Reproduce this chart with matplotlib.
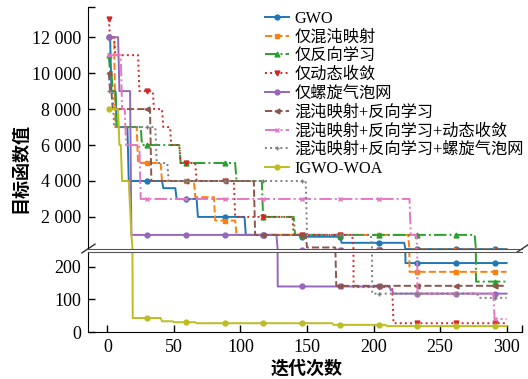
import numpy as np
import matplotlib
matplotlib.use("Agg")
import matplotlib.pyplot as plt

plt.rcParams['font.family'] = ['Liberation Serif', 'Noto Sans CJK SC']

names = ['GWO', '仅混沌映射', '仅反向学习', '仅动态收敛', '仅螺旋气泡网',
         '混沌映射+反向学习', '混沌映射+反向学习+动态收敛',
         '混沌映射+反向学习+螺旋气泡网', 'IGWO-WOA']
colors = ['#1f77b4', '#ff7f0e', '#2ca02c', '#d62728', '#9467bd',
          '#8c564b', '#e377c2', '#7f7f7f', '#bcbd22']
styles = ['-', '--', '-.', ':', '-', '--', '-.', ':', '-']
markers = ['o', 's', '^', 'v', 'o', '<', 'x', '+', 'o']

# convergence curves as (iteration where the value starts, best value)
gwo_steps = [(1, 12000), (3, 9000), (7, 7000), (16, 4000), (42, 3600), (52, 3000),
             (68, 2000), (104, 1000), (145, 900), (176, 560), (224, 212)]
chaos_steps = [(1, 12000), (6, 7000), (23, 5000), (41, 4000), (66, 3100), (81, 1800),
               (97, 1000), (227, 185)]
obl_steps = [(1, 11000), (2, 10000), (4, 9000), (7, 7000), (26, 6000), (55, 5000),
             (97, 4000), (117, 2000), (141, 1000), (277, 155)]
dyn_steps = [(1, 13000), (2, 12000), (6, 11000), (24, 9000), (35, 8000), (42, 7000),
             (48, 6000), (55, 5000), (67, 4000), (96, 2000), (140, 1000), (185, 138),
             (215, 27)]
spiral_steps = [(1, 12000), (9, 9000), (18, 1000), (128, 140), (213, 128), (215, 118)]
chaos_obl_steps = [(1, 10000), (2, 9000), (4, 8000), (33, 4000), (111, 1000),
                   (150, 300), (172, 142)]
chaos_obl_dyn_steps = [(1, 11000), (11, 8000), (14, 6000), (25, 3000), (228, 1000),
                       (233, 118), (291, 40)]
chaos_obl_spiral_steps = [(1, 9000), (5, 7000), (37, 5000), (46, 4000), (150, 1000),
                          (199, 118), (279, 105)]
igwo_woa_steps = [(1, 8000), (9, 6000), (11, 4000), (17, 2500), (18, 1000), (19, 43),
                  (41, 33), (50, 30), (67, 27), (170, 22), (210, 18)]

all_steps = [gwo_steps, chaos_steps, obl_steps, dyn_steps, spiral_steps,
             chaos_obl_steps, chaos_obl_dyn_steps, chaos_obl_spiral_steps, igwo_woa_steps]

n_iter = 300
iters = np.arange(1, n_iter + 1)

top_ticks = [2000, 4000, 6000, 8000, 10000, 12000]
top_tick_labels = ['2 000', '4 000', '6 000', '8 000', '10 000', '12 000']
bot_ticks = [0, 100, 200]
x_ticks = [0, 50, 100, 150, 200, 250, 300]


def expand(steps):
    vals = np.zeros(n_iter)
    for it, v in steps:
        vals[it - 1:] = v
    return vals


fig = plt.figure(figsize=(5.28, 3.79), dpi=100)
ax_top = fig.add_axes([0.1667, 0.3430, 0.8220, 0.6385])
ax_bot = fig.add_axes([0.1667, 0.1240, 0.8220, 0.2111])

for i in range(len(names)):
    vals = expand(all_steps[i])
    for ax in (ax_top, ax_bot):
        ax.plot(iters, vals, color=colors[i], ls=styles[i], lw=1.4,
                marker=markers[i], ms=3.5, markevery=29,
                label=names[i] if ax is ax_top else None)

xmin, xmax = -14.6, 311.6
top_lo, top_hi = 215, 13680
ax_top.set_xlim(xmin, xmax)
ax_bot.set_xlim(xmin, xmax)
ax_top.set_ylim(top_lo, top_hi)
ax_bot.set_ylim(0, 246)

ax_top.set_yticks(top_ticks)
ax_top.set_yticklabels(top_tick_labels)
ax_top.set_yticks([top_hi], minor=True)
ax_bot.set_yticks(bot_ticks)
ax_bot.set_xticks(x_ticks)
ax_bot.set_xticks([xmax], minor=True)

for ax in (ax_top, ax_bot):
    ax.spines['right'].set_visible(False)
    ax.tick_params(which='both', direction='in', length=5, width=1,
                   labelsize=13, pad=5)
ax_top.spines['top'].set_visible(False)
ax_top.spines['bottom'].set_color('#555555')
ax_bot.spines['top'].set_color('#555555')
ax_top.tick_params(axis='x', which='both', bottom=False, labelbottom=False)
ax_bot.tick_params(axis='x', which='both', top=False)

# break marks
for x0 in (0, 1):
    ax_top.plot([x0 - 0.014, x0 + 0.016], [-0.016, 0.02], transform=ax_top.transAxes,
                color='#333333', lw=1, clip_on=False)

ax_top.legend(loc='upper left', bbox_to_anchor=(0.408, 0.985), frameon=False,
              fontsize=11.7, handlelength=1.5, handletextpad=0.3,
              labelspacing=0.17, borderpad=0, borderaxespad=0)

fig.text(20 / 528, 1 - 168 / 379, '目标函数值', rotation=90, ha='center', va='center',
         fontsize=13, family='Noto Sans CJK SC', weight='bold')
fig.text(307 / 528, 1 - 368 / 379, '迭代次数', ha='center', va='center',
         fontsize=13, family='Noto Sans CJK SC', weight='bold')

fig.savefig('out.png', dpi=100)
